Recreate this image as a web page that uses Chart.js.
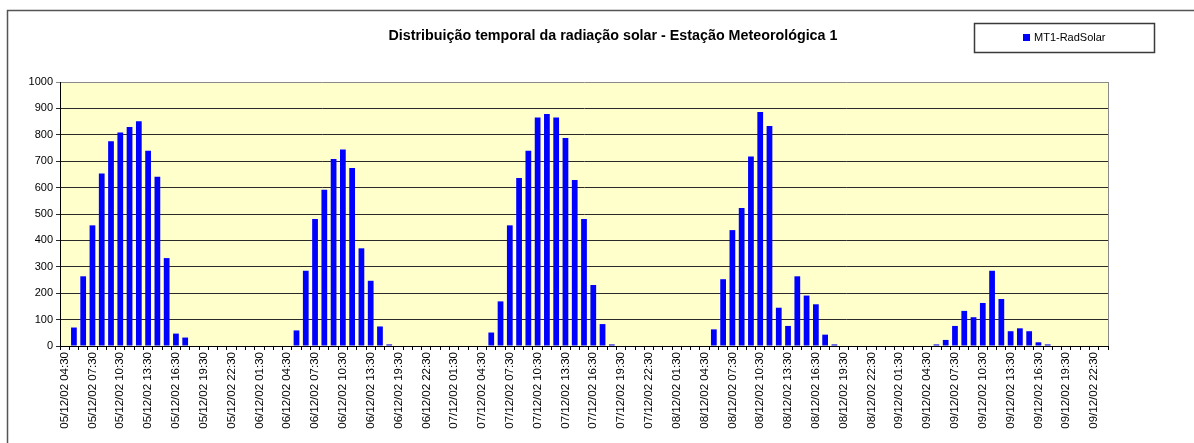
<!DOCTYPE html>
<html lang="pt">
<head>
<meta charset="utf-8">
<title>Radiação solar - Estação Meteorológica 1</title>
<script src="https://cdn.jsdelivr.net/npm/chart.js@4.4.1/dist/chart.umd.min.js"></script>
<style>
    html, body { margin: 0; padding: 0; background: #fff; }
    #wrap { width: 1194px; height: 443px; position: relative; overflow: hidden; }
</style>
</head>
<body>
<div id="wrap"><canvas id="radChart" width="1194" height="443"></canvas></div>
<script>
// horários (categorias) por dia
const horas05 = ['05/12/02 04:30', '05/12/02 05:30', '05/12/02 06:30', '05/12/02 07:30', '05/12/02 08:30', '05/12/02 09:30', '05/12/02 10:30', '05/12/02 11:30', '05/12/02 12:30', '05/12/02 13:30', '05/12/02 14:30', '05/12/02 15:30', '05/12/02 16:30', '05/12/02 17:30', '05/12/02 18:30', '05/12/02 19:30', '05/12/02 20:30', '05/12/02 21:30', '05/12/02 22:30', '05/12/02 23:30'];
const horas06 = ['06/12/02 00:30', '06/12/02 01:30', '06/12/02 02:30', '06/12/02 03:30', '06/12/02 04:30', '06/12/02 05:30', '06/12/02 06:30', '06/12/02 07:30', '06/12/02 08:30', '06/12/02 09:30', '06/12/02 10:30', '06/12/02 11:30', '06/12/02 12:30', '06/12/02 13:30', '06/12/02 17:30', '06/12/02 18:30', '06/12/02 19:30', '06/12/02 20:30', '06/12/02 21:30', '06/12/02 22:30', '06/12/02 23:30'];
const horas07 = ['07/12/02 00:30', '07/12/02 01:30', '07/12/02 02:30', '07/12/02 03:30', '07/12/02 04:30', '07/12/02 05:30', '07/12/02 06:30', '07/12/02 07:30', '07/12/02 08:30', '07/12/02 09:30', '07/12/02 10:30', '07/12/02 11:30', '07/12/02 12:30', '07/12/02 13:30', '07/12/02 14:30', '07/12/02 15:30', '07/12/02 16:30', '07/12/02 17:30', '07/12/02 18:30', '07/12/02 19:30', '07/12/02 20:30', '07/12/02 21:30', '07/12/02 22:30', '07/12/02 23:30'];
const horas08 = ['08/12/02 00:30', '08/12/02 01:30', '08/12/02 02:30', '08/12/02 03:30', '08/12/02 04:30', '08/12/02 05:30', '08/12/02 06:30', '08/12/02 07:30', '08/12/02 08:30', '08/12/02 09:30', '08/12/02 10:30', '08/12/02 11:30', '08/12/02 12:30', '08/12/02 13:30', '08/12/02 14:30', '08/12/02 15:30', '08/12/02 16:30', '08/12/02 17:30', '08/12/02 18:30', '08/12/02 19:30', '08/12/02 20:30', '08/12/02 21:30', '08/12/02 22:30', '08/12/02 23:30'];
const horas09 = ['09/12/02 00:30', '09/12/02 01:30', '09/12/02 02:30', '09/12/02 03:30', '09/12/02 04:30', '09/12/02 05:30', '09/12/02 06:30', '09/12/02 07:30', '09/12/02 08:30', '09/12/02 09:30', '09/12/02 10:30', '09/12/02 11:30', '09/12/02 12:30', '09/12/02 13:30', '09/12/02 14:30', '09/12/02 15:30', '09/12/02 16:30', '09/12/02 17:30', '09/12/02 18:30', '09/12/02 19:30', '09/12/02 20:30', '09/12/02 21:30', '09/12/02 22:30', '09/12/02 23:30'];

// radiação solar (W/m²) por dia
const rad05 = [0, 70, 264, 457, 653, 776, 809, 830, 851, 740, 641, 333, 47, 32, 0, 0, 0, 0, 0, 0];
const rad06 = [0, 0, 0, 0, 0, 59, 285, 481, 592, 708, 744, 674, 370, 247, 74, 6, 0, 0, 0, 0, 0];
const rad07 = [0, 0, 0, 0, 0, 51, 169, 457, 636, 740, 866, 879, 866, 788, 629, 481, 231, 83, 6, 0, 0, 0, 0, 0];
const rad08 = [0, 0, 0, 0, 0, 63, 253, 439, 523, 718, 886, 833, 145, 76, 264, 191, 158, 43, 6, 0, 0, 0, 0, 0];
const rad09 = [0, 0, 0, 0, 0, 6, 23, 76, 133, 109, 163, 285, 178, 56, 67, 56, 14, 6, 0, 0, 0, 0, 0, 0];

const yTicks = [0, 100, 200, 300, 400, 500, 600, 700, 800, 900, 1000];

const tituloGrafico = 'Distribuição temporal da radiação solar - Estação Meteorológica 1';
const nomeSerie = 'MT1-RadSolar';

const labels = [...horas05, ...horas06, ...horas07, ...horas08, ...horas09];
const valores = [...rad05, ...rad06, ...rad07, ...rad08, ...rad09];

const FONTE = 'Arial, "Liberation Sans", sans-serif';

// moldura estilo Excel: fundo da área do gráfico, bordas, título e legenda
const excelFrame = {
    id: 'excelFrame',
    beforeDraw(chart) {
        const ctx = chart.ctx;
        const a = chart.chartArea;
        ctx.save();
        ctx.fillStyle = '#ffffff';
        ctx.fillRect(0, 0, chart.width, chart.height);
        ctx.strokeStyle = '#555555';
        ctx.lineWidth = 1.5;
        ctx.strokeRect(7.5, 10.5, chart.width + 20, chart.height + 20);
        ctx.fillStyle = '#ffffcc';
        ctx.fillRect(a.left, a.top, a.right - a.left, a.bottom - a.top);
        ctx.restore();
    },
    afterDraw(chart) {
        const ctx = chart.ctx;
        const a = chart.chartArea;
        ctx.save();
        // borda direita cinza da área de plotagem
        ctx.strokeStyle = '#8a8a8a';
        ctx.lineWidth = 1;
        ctx.beginPath();
        ctx.moveTo(Math.round(a.right) + 0.5, a.top);
        ctx.lineTo(Math.round(a.right) + 0.5, a.bottom);
        ctx.stroke();

        // título
        ctx.fillStyle = '#000000';
        ctx.font = 'bold 14.3px ' + FONTE;
        ctx.textAlign = 'center';
        ctx.textBaseline = 'middle';
        ctx.fillText(tituloGrafico, 613, 36);

        // legenda
        ctx.strokeStyle = '#3a3a3a';
        ctx.lineWidth = 1.5;
        ctx.strokeRect(974.5, 23.5, 180, 29);
        ctx.fillStyle = '#0000ff';
        ctx.fillRect(1023, 34, 7, 7);
        ctx.fillStyle = '#000000';
        ctx.font = '11px ' + FONTE;
        ctx.textAlign = 'left';
        ctx.fillText(nomeSerie, 1034, 38);
        ctx.restore();
    }
};

const ctx = document.getElementById('radChart').getContext('2d');
const chart = new Chart(ctx, {
    type: 'bar',
    data: {
        labels: labels,
        datasets: [{
            label: nomeSerie,
            data: valores,
            backgroundColor: '#0000ff',
            borderWidth: 0,
            categoryPercentage: 1,
            barPercentage: 0.62
        }]
    },
    options: {
        responsive: false,
        animation: false,
        layout: { padding: { top: 82, right: 86, left: 0, bottom: 0 } },
        plugins: {
            legend: { display: false },
            title: { display: false },
            tooltip: { enabled: false }
        },
        scales: {
            x: {
                afterFit(scale) { scale.height = 97; },
                grid: {
                    display: true,
                    drawOnChartArea: false,
                    drawTicks: true,
                    tickLength: 4,
                    color: '#000000',
                    offset: true
                },
                border: { display: true, color: '#000000', width: 1 },
                ticks: {
                    autoSkip: false,
                    maxRotation: 90,
                    minRotation: 90,
                    padding: 2,
                    color: '#000000',
                    font: { family: FONTE, size: 11.5 },
                    callback: function (val, i) {
                        return i % 3 === 0 ? this.getLabelForValue(val) : '';
                    }
                }
            },
            y: {
                min: 0,
                max: 1000,
                afterFit(scale) { scale.width = 60; },
                afterBuildTicks(scale) { scale.ticks = yTicks.map(v => ({ value: v })); },
                grid: {
                    color: c => (c.tick && c.tick.value === 1000 ? '#8a8a8a' : '#2a2a2a'),
                    lineWidth: 1,
                    tickLength: 4,
                    drawTicks: true
                },
                border: { display: true, color: '#000000', width: 1 },
                ticks: {
                    padding: 3,
                    color: '#000000',
                    font: { family: FONTE, size: 11 },
                    callback: v => String(v)
                }
            }
        }
    },
    plugins: [excelFrame]
});
</script>
</body>
</html>
